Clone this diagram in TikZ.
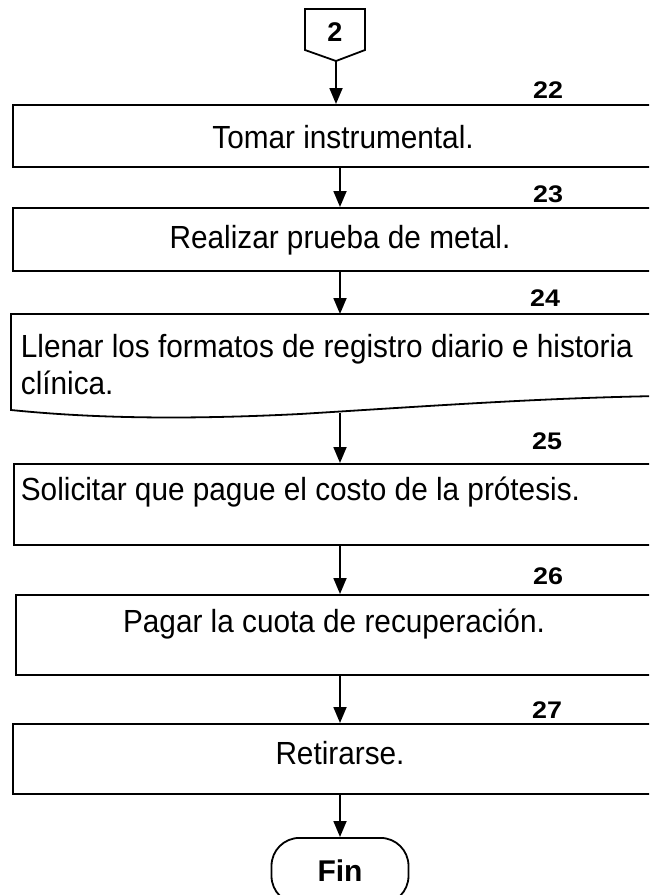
\documentclass[tikz,border=0pt]{standalone}
\usepackage{fontspec}
\setmainfont{Liberation Sans}
\newfontfamily\boxfont[FakeStretch=0.93]{Liberation Sans}
\newfontfamily\numfont[FakeStretch=1.12]{Liberation Sans}
\usetikzlibrary{arrows.meta}
\begin{document}
\begin{tikzpicture}[x=1pt,y=-1pt,
  line width=1.8pt,
  boxst/.style={draw, line width=1.8pt, minimum width=660pt, anchor=north west, inner sep=0pt},
  txt/.style={font=\boxfont\fontsize{32}{37}\selectfont, inner sep=0pt},
  numlab/.style={font=\numfont\fontsize{24}{28}\selectfont\bfseries, inner sep=0pt, anchor=base},
  arr/.style={-{Triangle[length=16pt,width=13pt]}, line width=1.8pt}]
\useasboundingbox (0,0) rectangle (649,895);
\clip (0,0) rectangle (649,895);
% off-page connector
\draw (305,9) -- (365,9) -- (365,50) -- (336,61) -- (305,50) -- cycle;
\node[font=\fontsize{27}{31}\selectfont\bfseries, inner sep=0pt] (c2) at (335,32) {2};
\coordinate (c2b) at (336,61);
% boxes
\node[boxst, minimum height=62pt] (b22) at (12,104) {};
\node[boxst, minimum height=63pt] (b23) at (12,207) {};
\draw (11,314) -- (11,410) .. controls (90,418) and (180,420) .. (300,414) .. controls (430,406) and (540,398) .. (660,396) -- (660,314) -- cycle;
\coordinate (b24t) at (340,314);
\coordinate (b24b) at (340,413);
\node[boxst, minimum height=81pt] (b25) at (13,463) {};
\node[boxst, minimum height=80pt] (b26) at (15,594) {};
\node[boxst, minimum height=70pt] (b27) at (12,723) {};
\node[draw, rounded corners=28pt, minimum width=137pt, minimum height=66pt, anchor=north, inner sep=0pt, font=\fontsize{30}{34}\selectfont\bfseries] (fin) at (340,837) {Fin};
% connector end points on the boxes
\coordinate (a22t) at (336,104);
\coordinate (a22b) at (340,166);
\coordinate (a23t) at (340,207);
\coordinate (a23b) at (340,270);
\coordinate (a25t) at (340,463);
\coordinate (a25b) at (340,544);
\coordinate (a26t) at (340,594);
\coordinate (a26b) at (340,674);
\coordinate (a27t) at (340,723);
\coordinate (a27b) at (340,793);
% texts
\node[txt] (t22) at (343,137) {Tomar instrumental.};
\node[txt] (t23) at (340,240) {Realizar prueba de metal.};
\node[txt, anchor=base west] (t24a) at (20,357) {Llenar los formatos de registro diario e historia};
\node[txt, anchor=base west] (t24b) at (20,394) {clínica.};
\node[txt, anchor=base west] (t25) at (20,500) {Solicitar que pague el costo de la prótesis.};
\node[txt] (t26) at (334,624) {Pagar la cuota de recuperación.};
\node[txt] (t27) at (340,753) {Retirarse.};
% numbers
\node[numlab] (n22) at (548,98) {22};
\node[numlab] (n23) at (548,202) {23};
\node[numlab] (n24) at (545,306) {24};
\node[numlab] (n25) at (547,449) {25};
\node[numlab] (n26) at (548,584) {26};
\node[numlab] (n27) at (547,718) {27};
% connectors
\draw[arr] (c2b) -- (a22t);
\draw[arr] (a22b) -- (a23t);
\draw[arr] (a23b) -- (b24t);
\draw[arr] (b24b) -- (a25t);
\draw[arr] (a25b) -- (a26t);
\draw[arr] (a26b) -- (a27t);
\draw[arr] (a27b) -- (fin.north);
\end{tikzpicture}
\end{document}
